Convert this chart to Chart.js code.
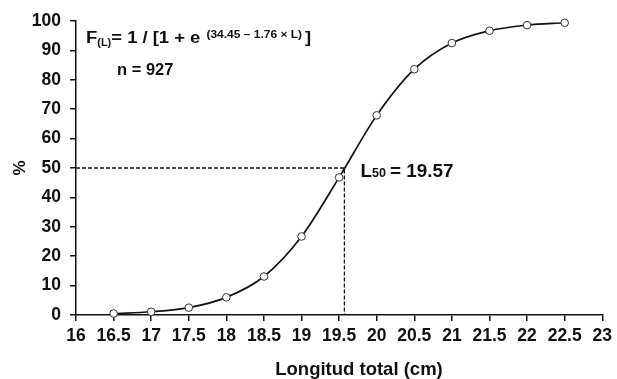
<!DOCTYPE html>
<html><head><meta charset="utf-8">
<script src="https://cdn.jsdelivr.net/npm/chart.js@4/dist/chart.umd.min.js"></script>
<style>html,body{margin:0;padding:0;background:#fff}#wrap{width:617px;height:379px}</style>
</head><body><div id="wrap"><canvas id="c" width="617" height="379"></canvas></div>
<script>
const lengths = [16.5, 17, 17.5, 18, 18.5, 19, 19.5, 20, 20.5, 21, 21.5, 22, 22.5];
const percentMature = [0.5, 1.1, 2.5, 6, 13.1, 26.7, 46.8, 67.9, 83.6, 92.5, 96.7, 98.6, 99.4];
const L50 = 19.57;
const xTicks = [16, 16.5, 17, 17.5, 18, 18.5, 19, 19.5, 20, 20.5, 21, 21.5, 22, 22.5, 23];
const yTicks = [0, 10, 20, 30, 40, 50, 60, 70, 80, 90, 100];
const xTitle = 'Longitud total (cm)';
const yTitle = '%';

const FONT = '"Liberation Sans", Arial, sans-serif';

function txt(ctx, s, x, y, size, sx) {
  ctx.save();
  ctx.font = 'bold ' + size + 'px ' + FONT;
  ctx.translate(x, y);
  ctx.scale(sx, 1);
  ctx.fillText(s, 0, 0);
  const w = ctx.measureText(s).width * sx;
  ctx.restore();
  return w;
}

const textPlugin = {
  id: 'texts',
  afterDraw(chart) {
    const ctx = chart.ctx;
    const xs = chart.scales.x, ys = chart.scales.y;
    ctx.save();
    ctx.fillStyle = '#111';
    ctx.textBaseline = 'alphabetic';
    ctx.textAlign = 'left';
    // Equation
    let x = 86, y = 43;
    x += txt(ctx, 'F', x, y, 16, 1.15);
    x += txt(ctx, '(L)', x, y + 3, 10, 1.1);
    x += txt(ctx, '= 1 / [1 + e ', x, y, 16, 1.15) + 1;
    x += txt(ctx, '(34.45 \u2013 1.76 \u00d7 L)', x, y - 5, 10, 1.2) + 3;
    txt(ctx, ']', x, y, 16, 1.15);
    // n
    txt(ctx, 'n = 927', 117, 75, 16.5, 1.0);
    // L50
    x = xs.getPixelForValue(L50) + 16; y = ys.getPixelForValue(50) + 9;
    x += txt(ctx, 'L', x, y, 18, 1.05);
    x += txt(ctx, '50', x, y, 12, 1.05) + 4;
    txt(ctx, '= 19.57', x, y, 18, 1.05);
    // x axis title
    ctx.textAlign = 'center';
    ctx.font = 'bold 18.5px ' + FONT;
    ctx.fillText(xTitle, 359, 375);
    ctx.restore();
  }
};

new Chart(document.getElementById('c'), {
  type: 'scatter',
  data: {
    datasets: [
      {
        data: [{x: xTicks[0], y: 50}, {x: L50, y: 50}, {x: L50, y: 0}],
        showLine: true, borderColor: '#111', borderWidth: 1.3, borderDash: [4, 2],
        pointRadius: 0, tension: 0
      },
      {
        data: lengths.map((l, i) => ({x: l, y: percentMature[i]})),
        showLine: true, borderColor: '#111', borderWidth: 1.7, clip: false,
        cubicInterpolationMode: 'monotone',
        pointRadius: 3.8, pointBackgroundColor: '#fff', pointBorderColor: '#333', pointBorderWidth: 1
      }
    ]
  },
  options: {
    responsive: false, animation: false,
    layout: {padding: {left: 10, right: 8, top: 21, bottom: 0}},
    plugins: {legend: {display: false}, tooltip: {enabled: false}},
    scales: {
      x: {
        type: 'linear', min: 16, max: 23,
        afterBuildTicks(axis) { axis.ticks = xTicks.map(v => ({value: v})); },
        afterFit(axis) { axis.height = 64; },
        grid: {display: true, drawOnChartArea: false, drawTicks: true, tickLength: 6, color: '#111', lineWidth: 1.5},
        border: {color: '#111', width: 1.5},
        ticks: {color: '#111', font: {family: FONT, size: 17.5, weight: 'bold'}, padding: 5, maxRotation: 0, autoSkip: false,
          callback: v => String(v)},
        title: {display: false}
      },
      y: {
        min: 0, max: 100,
        afterBuildTicks(axis) { axis.ticks = yTicks.map(v => ({value: v})); },
        afterFit(axis) { axis.width = 66; },
        grid: {display: true, drawOnChartArea: false, drawTicks: true, tickLength: 6, color: '#111', lineWidth: 1.5},
        border: {color: '#111', width: 1.5},
        ticks: {color: '#111', font: {family: FONT, size: 17.5, weight: 'bold'}, padding: 9, callback: v => String(v)},
        title: {display: true, text: yTitle, color: '#111', font: {family: FONT, size: 17, weight: 'bold'}, padding: 0}
      }
    }
  },
  plugins: [textPlugin]
});
</script></body></html>
